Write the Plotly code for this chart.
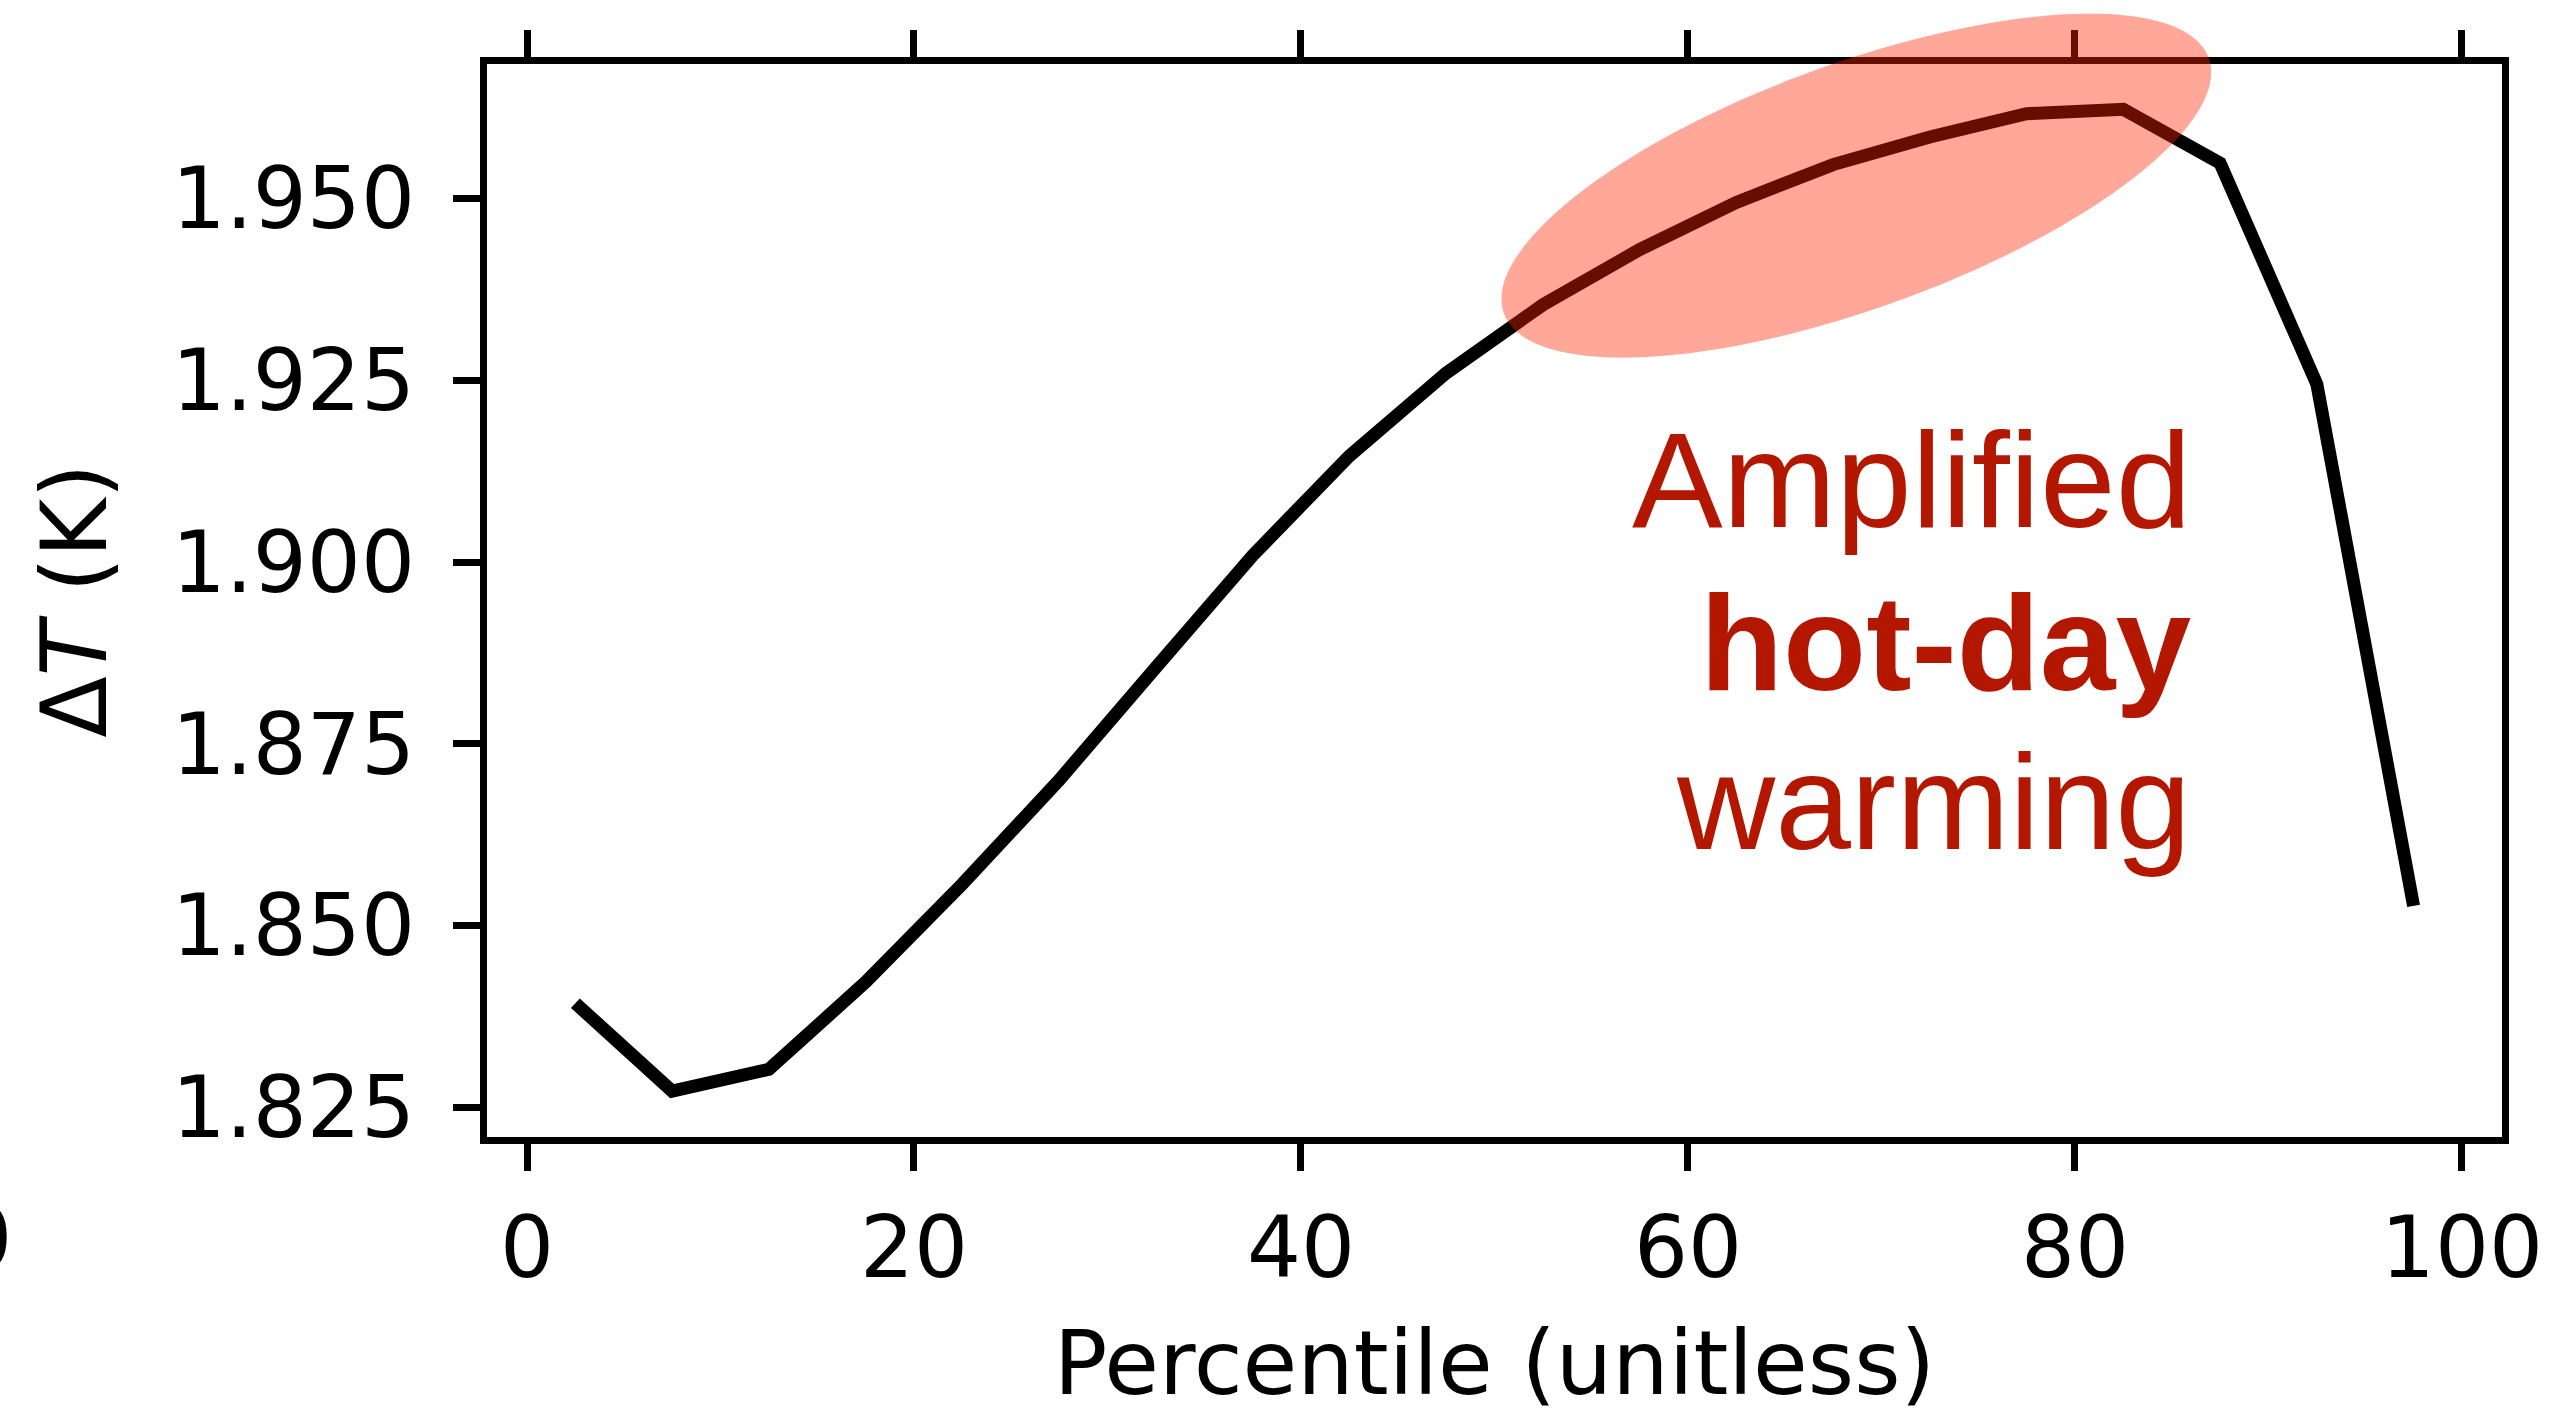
import numpy as np
import plotly.graph_objects as go

# ---- data ----
percentile = [2.5, 7.5, 12.5, 17.5, 22.5, 27.5, 32.5, 37.5, 42.5, 47.5,
              52.5, 57.5, 62.5, 67.5, 72.5, 77.5, 82.5, 87.5, 92.5, 97.5]
delta_t = [1.8393, 1.8272, 1.8302, 1.8422, 1.8557, 1.8700, 1.8855, 1.9009, 1.9146, 1.9260,
           1.9354, 1.9430, 1.9495, 1.9547, 1.9585, 1.9617, 1.9623, 1.9549, 1.9245, 1.8527]
x_ticks = [0, 20, 40, 60, 80, 100]
y_ticks = [1.825, 1.850, 1.875, 1.900, 1.925, 1.950]
y_ticklabels = ["1.825", "1.850", "1.875", "1.900", "1.925", "1.950"]
note_lines = ["Amplified", "<b>hot-day</b>", "warming"]
note_y = [1.9113, 1.8889, 1.8670]
note_x = 86.1

# ---- layout geometry ----
W, H = 2560, 1415
L, R, T, B = 487, 2502, 64, 1141
XR = [-2.067, 102.07]
YR = [1.82089, 1.96854]
pw, ph = R - L, B - T

def to_paper(xd, yd):
    return ((xd - XR[0]) / (XR[1] - XR[0]), (yd - YR[0]) / (YR[1] - YR[0]))

fig = go.Figure()
fig.add_trace(go.Scatter(x=percentile, y=delta_t, mode="lines",
                         line=dict(color="black", width=13), showlegend=False,
                         hoverinfo="skip"))

# highlight ellipse (centre in data units, axes in pixels, rotated)
ecx, ecy = to_paper(68.7, 1.9518)
a_px, b_px, ang = 375.0, 123.0, np.deg2rad(20.0)
t = np.linspace(0, 2 * np.pi, 200)
dx = a_px * np.cos(t) * np.cos(ang) - b_px * np.sin(t) * np.sin(ang)
dy = a_px * np.cos(t) * np.sin(ang) + b_px * np.sin(t) * np.cos(ang)
px = ecx + dx / pw
py = ecy + dy / ph
path = "M " + " L ".join(f"{u:.5f},{v:.5f}" for u, v in zip(px, py)) + " Z"
fig.add_shape(type="path", path=path, xref="paper", yref="paper",
              fillcolor="rgba(255,38,0,0.4)", line=dict(width=0), layer="above")

for txt, yy in zip(note_lines, note_y):
    fig.add_annotation(x=note_x, y=yy, xref="x", yref="y", text=txt,
                       showarrow=False, xanchor="right", yanchor="middle",
                       font=dict(family="Liberation Sans", size=136, color="#b41700"))

# partial tick label from a neighbouring panel at the left edge
fig.add_annotation(x=(14 - L) / pw, y=(B - 1243) / ph, xref="paper", yref="paper",
                   text="100", showarrow=False, xanchor="right", yanchor="middle",
                   font=dict(family="DejaVu Sans", size=85, color="black"))

axis_common = dict(showgrid=False, zeroline=False, showline=True, linecolor="black",
                   linewidth=7, ticks="outside", ticklen=27, tickwidth=7,
                   tickcolor="black",
                   tickfont=dict(family="DejaVu Sans", size=85, color="black"))

fig.update_layout(
    width=W, height=H,
    margin=dict(l=L, r=W - R, t=T, b=H - B, pad=0),
    plot_bgcolor="white", paper_bgcolor="white",
    xaxis=dict(range=XR, tickvals=x_ticks, mirror="ticks", ticklabelstandoff=4,
               title=dict(text="Percentile (unitless)",
                          font=dict(family="DejaVu Sans", size=89, color="black"),
                          standoff=44),
               **axis_common),
    yaxis=dict(range=YR, tickvals=y_ticks, ticktext=y_ticklabels, mirror=True,
               ticklabelstandoff=21,
               title=dict(text="Δ<i>T</i> (K)",
                          font=dict(family="DejaVu Sans", size=90, color="black"),
                          standoff=38),
               **axis_common),
)

fig.write_html("out.html")
